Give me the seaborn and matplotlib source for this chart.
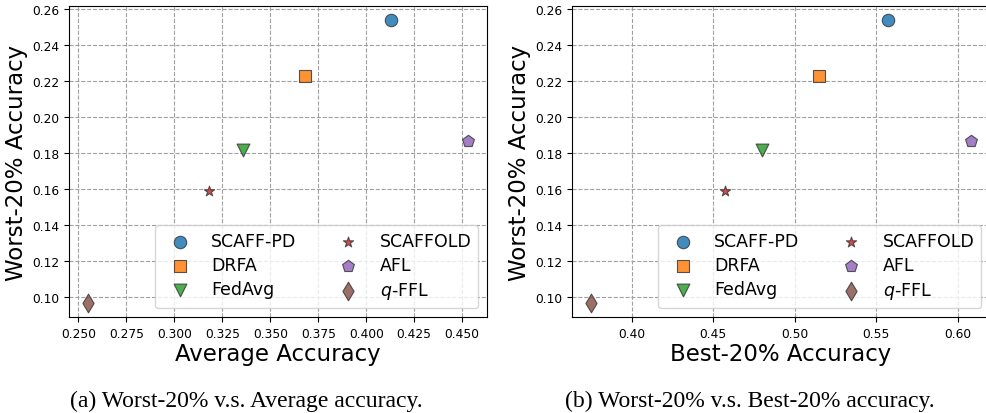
import pandas as pd
import matplotlib.pyplot as plt
import seaborn as sns

# data
methods = ["SCAFF-PD", "DRFA", "FedAvg", "SCAFFOLD", "AFL", "$q$-FFL"]
worst20 = [0.254, 0.223, 0.182, 0.159, 0.187, 0.097]
average = [0.413, 0.368, 0.336, 0.318, 0.453, 0.255]
best20 = [0.557, 0.515, 0.480, 0.457, 0.608, 0.375]

df = pd.DataFrame({"method": methods, "worst": worst20,
                   "avg": average, "best": best20})

palette = dict(zip(methods, sns.color_palette("tab10", 6)))
markers = dict(zip(methods, ["o", "s", "v", "*", "p", "d"]))
sizes = dict(zip(methods, [80, 80, 85, 60, 80, 90]))

plt.rcParams["font.family"] = ["DejaVu Sans"]

fig = plt.figure(figsize=(9.87, 4.14), dpi=100)
ax1 = fig.add_axes([0.0699, 0.232, 0.4235, 0.751])
ax2 = fig.add_axes([0.5795, 0.232, 0.4235, 0.751])

for ax, xcol, xlabel in [(ax1, "avg", "Average Accuracy"),
                         (ax2, "best", "Best-20% Accuracy")]:
    for m in methods:
        sub = df[df["method"] == m]
        sns.scatterplot(data=sub, x=xcol, y="worst", color=palette[m],
                        marker=markers[m], s=sizes[m], edgecolor="#3a3a3a",
                        linewidth=0.8, alpha=0.85, label=m, ax=ax, zorder=3)
    ax.grid(True, linestyle="--", color="#a0a0a0", linewidth=0.8)
    ax.set_axisbelow(True)
    ax.set_xlabel(xlabel, fontsize=16.5, labelpad=2)
    ax.set_ylabel("Worst-20% Accuracy", fontsize=16.5, labelpad=3)
    ax.tick_params(labelsize=8.8, length=3.5)
    ax.set_yticks([0.10, 0.12, 0.14, 0.16, 0.18, 0.20, 0.22, 0.24, 0.26])
    ax.legend(loc="lower right", ncol=2, fontsize=12.5, handletextpad=0.8,
              columnspacing=2.0, borderpad=0.4, labelspacing=0.35,
              framealpha=0.8)

ax1.set_xticks([0.25, 0.275, 0.3, 0.325, 0.35, 0.375, 0.4, 0.425, 0.45])
ax2.set_xticks([0.40, 0.45, 0.50, 0.55, 0.60])

cap = ["Liberation Serif", "DejaVu Serif"]
fig.text(0.25, 0.03, "(a) Worst-20% v.s. Average accuracy.",
         ha="center", va="center", fontsize=17, family=cap)
fig.text(0.76, 0.03, "(b) Worst-20% v.s. Best-20% accuracy.",
         ha="center", va="center", fontsize=17, family=cap)

fig.savefig("out.png", dpi=100)
